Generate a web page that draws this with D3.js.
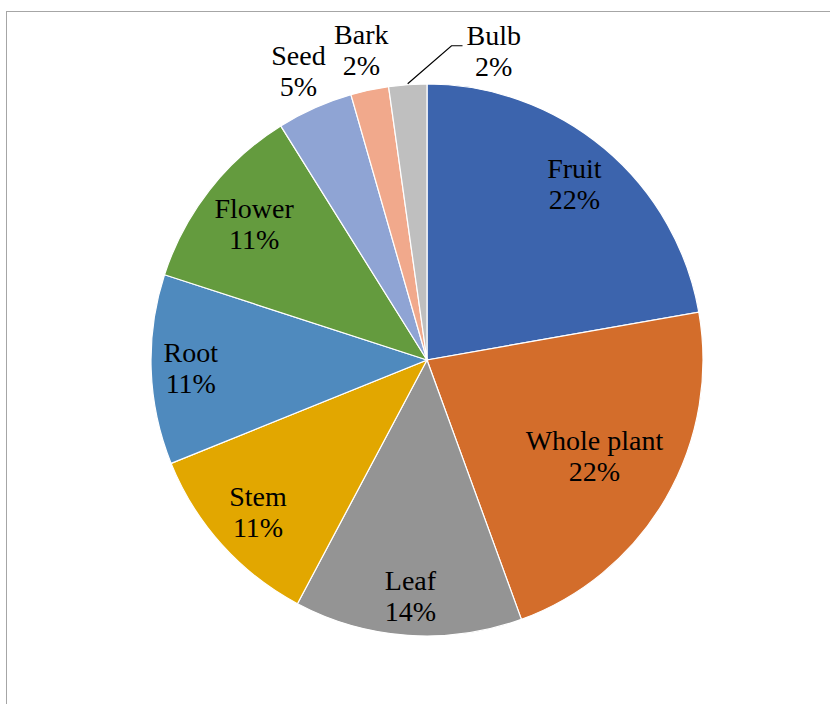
<!DOCTYPE html>
<html>
<head>
<meta charset="utf-8">
<script src="https://cdn.jsdelivr.net/npm/d3@7"></script>
<style>
  body { margin: 0; background: #fff; }
</style>
</head>
<body>
<svg id="chart"></svg>
<script>
// Plant parts used (counts, shares shown as labels)
const parts = ['Fruit', 'Whole plant', 'Leaf', 'Stem', 'Root', 'Flower', 'Seed', 'Bark', 'Bulb'];
const counts = [10, 10, 6, 5, 5, 5, 2, 1, 1];
const shares = ['22%', '22%', '14%', '11%', '11%', '11%', '5%', '2%', '2%'];
const colors = ['#3c64ad', '#d36d2b', '#949494', '#e2a700', '#4f8abe', '#649b3e', '#8fa4d4', '#f1a98c', '#bfbfbf'];

const width = 830, height = 704;
const cx = 427, cy = 360, radius = 276;
const fontSize = 28, lineGap = 31;
const fontFamily = "'Liberation Serif', 'Times New Roman', Times, serif";

const svg = d3.select('#chart')
    .attr('width', width)
    .attr('height', height);

// chart area border (runs off the right and bottom of the picture)
svg.append('rect')
    .attr('x', 6.5)
    .attr('y', 11.5)
    .attr('width', 900)
    .attr('height', 900)
    .attr('fill', 'none')
    .attr('stroke', '#a6a6a6')
    .attr('stroke-width', 1);

const data = parts.map((p, i) => ({ part: p, count: counts[i], share: shares[i], color: colors[i] }));

const pie = d3.pie()
    .sort(null)
    .value(d => d.count);

const arcs = pie(data);

const arc = d3.arc()
    .innerRadius(0)
    .outerRadius(radius);

const g = svg.append('g')
    .attr('transform', `translate(${cx},${cy})`);

g.selectAll('.slice')
    .data(arcs)
    .join('path')
    .attr('class', 'slice')
    .attr('d', arc)
    .attr('fill', d => d.data.color)
    .attr('stroke', '#fff')
    .attr('stroke-width', 1.2);

// helper: point at angle a (radians, clockwise from top) and distance r
const polar = (a, r) => [r * Math.sin(a), -r * Math.cos(a)];

// measure text widths
const measure = svg.append('text')
    .style('font-family', fontFamily)
    .style('font-size', fontSize + 'px')
    .attr('opacity', 0);
const textWidth = s => { measure.text(s); return measure.node().getComputedTextLength(); };

const halfH = 24.5;
const placed = [];

arcs.forEach(d => {
    const mid = (d.startAngle + d.endAngle) / 2;
    const w = Math.max(textWidth(d.data.part), textWidth(d.data.share));
    const big = d.endAngle - d.startAngle > 0.5;
    let x, y, leader = null;

    if (big) {
        // inside: start far out, pull in until box fits inside the pie
        let r = 0.86 * radius;
        for (; r > 50; r -= 1) {
            [x, y] = polar(mid, r);
            const corners = [[x - w / 2, y - halfH], [x + w / 2, y - halfH], [x - w / 2, y + halfH], [x + w / 2, y + halfH]];
            if (corners.every(c => Math.hypot(c[0], c[1]) < radius - 10)) break;
        }
    } else {
        // outside label
        [x, y] = polar(mid, radius + 40);
        const prev = placed[placed.length - 1];
        if (prev && Math.abs(prev.x - x) < (prev.w + w) / 2 && Math.abs(prev.y - y) < 2 * halfH) {
            // overlaps: move right of previous label and draw a leader line
            const left = prev.x + prev.w / 2 + 78;
            x = left + w / 2;
            y = y + 7;
            const start = polar(mid, radius + 1);
            leader = [start, [left - 15, y - 6], [left - 4, y - 6]];
        }
    }
    placed.push({ x, y, w });

    if (leader) {
        g.append('path')
            .attr('d', d3.line()(leader))
            .attr('fill', 'none')
            .attr('stroke', '#000')
            .attr('stroke-width', 1.2);
    }

    const t = g.append('text')
        .attr('text-anchor', 'middle')
        .attr('fill', '#000')
        .style('font-family', fontFamily)
        .style('font-size', fontSize + 'px');
    t.append('tspan').attr('x', x).attr('y', y - 6.5).text(d.data.part);
    t.append('tspan').attr('x', x).attr('y', y - 6.5 + lineGap).text(d.data.share);
});

measure.remove();
</script>
</body>
</html>
